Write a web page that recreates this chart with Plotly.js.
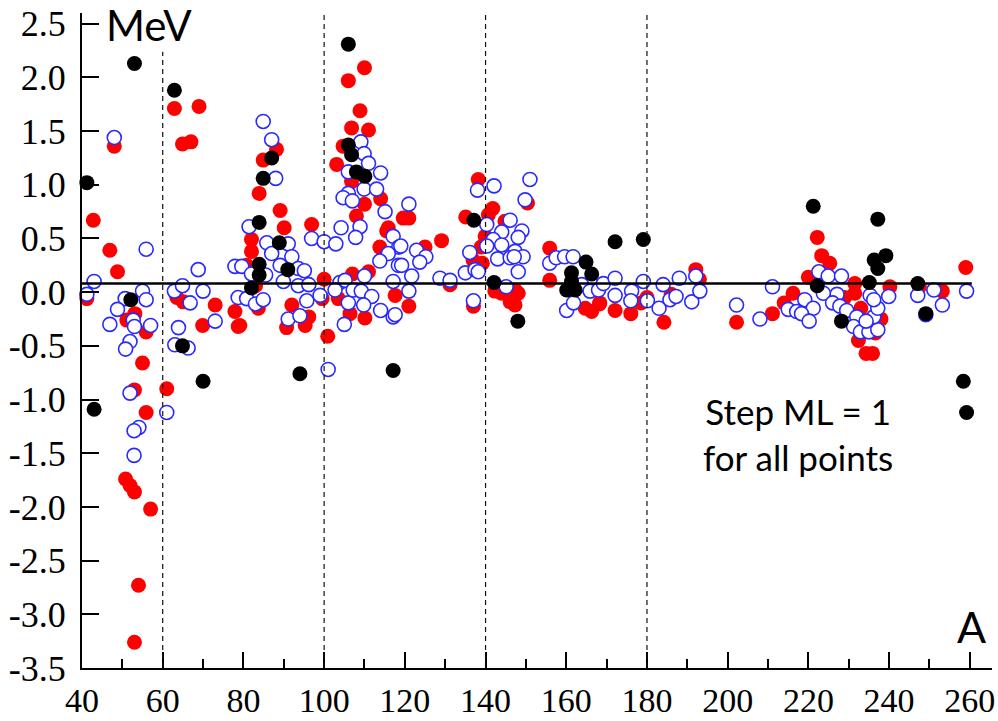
<!DOCTYPE html>
<html>
<head>
<meta charset="utf-8">
<script src="https://cdn.plot.ly/plotly-3.0.1.min.js"></script>
<style>html,body{margin:0;padding:0;background:#fff;}#chart{width:998px;height:721px;}</style>
</head>
<body>
<div id="chart"></div>
<script>
// ---- data (A, deviation in MeV) ----
const redX = [42.8,46.9,48.8,41.2,48,53.1,51.1,55.9,55,53,61,55.9,50.8,51.9,53,57,54,53,62.9,69,64.9,67,63.5,65.1,73,69.9,77.9,78.7,80.8,
  88.2,84.9,83.9,89.1,90.1,96.9,82,82,83.7,79.1,90.7,95.3,96.2,92,99.5,100,100.9,83,
  110,106,108.9,106.8,111,104.7,103.1,106.8,110,114,108,115.9,119.6,115.5,113.8,107,111,117.6,103.5,106.4,110.1,121,121,125,129.1,
  138.2,150.4,141.8,135.1,138.9,155.9,136.9,155.9,147.3,137,142.3,146.9,131.2,144,146.1,147.3,148.1,164.7,166.3,168.3,139.9,139.2,144.8,140.7,
  172.1,176,184.2,168.2,192.1,193,180,202.2,211.1,222.2,223.3,225.3,220,231.5,216.2,232.4,234.3,235.9,236.6,231.5,240.2,259,253.2,247.5,214,229,233,238,186,178.5];
const redY = [0.67,0.39,0.19,-0.06,1.36,-0.20,-0.26,-0.37,-0.66,-0.91,-0.90,-1.12,-1.74,-1.80,-1.86,-2.02,-2.73,-3.26,1.71,1.73,1.38,1.40,-0.05,-0.09,-0.12,-0.31,-0.18,-0.32,0.25,
  1.33,1.23,0.92,0.76,0.60,0.63,0.49,0.38,-0.15,-0.31,-0.33,-0.31,-0.23,-0.12,-0.06,0.12,-0.41,0.06,
  2.09,1.97,1.69,1.53,1.51,1.36,1.19,1.03,0.82,0.87,0.71,0.60,0.69,0.57,0.42,0.17,0.19,-0.03,-0.06,-0.20,-0.24,0.69,-0.13,0.42,0.48,
  1.05,0.83,0.78,0.70,0.42,0.41,0.30,0.11,0.02,-0.13,0.01,-0.10,0.07,-0.01,-0.09,-0.12,-0.01,-0.15,-0.18,-0.10,0.52,0.27,0.66,0.72,
  -0.17,-0.20,-0.28,-0.11,0.21,0.12,-0.05,-0.28,-0.20,0.51,0.34,0.27,0.14,0.08,-0.01,-0.45,-0.57,-0.57,-0.38,-0.01,0.05,0.23,0.01,0.05,-0.10,-0.05,-0.15,-0.25,-0.02,-0.10];

const blueX = [48,55.9,43,68.8,77.9,41.2,55,55.9,50.7,48.8,46.9,52.7,53,57,51.9,50.8,51.9,61,54.1,52.9,52.9,62.9,64.9,66.8,70,73,63.9,63,66.3,78.7,
  84.9,87,88,81.4,96.9,100,102.9,85.8,91.1,87,92,89.1,79.6,93.6,95.1,82,85.5,89.9,93.6,96.2,80.8,83,84.9,91.1,94,95.7,99,
  109.1,109.9,106,111,114,106,104.7,107,109.9,113,115.1,108.9,104.2,121,107.8,117.1,118.5,115.9,113.8,118.4,103.9,110,105.2,117.1,102.7,106,107.2,109.2,111.8,109.8,114,117.1,105,101,119,122.9,125.2,119.2,123.7,121.7,121,117.6,
  128.7,131.2,135,137.4,138.2,136.1,137,138,142.1,151,149.8,140.3,146.1,144,149,148.1,141.9,140.3,144,147.3,143,146.1,149.3,148.1,145.1,155.9,157.5,159.6,161.7,163.8,160.1,161.8,165.9,168,169.2,147.1,
  172.1,179.1,192.1,188,184,172.1,176.2,176,180.1,183,185.7,187.2,191.1,193.1,202.2,208,211.1,222.6,224.9,228.2,227.1,223.7,235.3,239.9,247.1,251.1,253.2,259.2,249.1,219.1,221.2,215,217.1,218.3,220.2,226,227.8,229.5,232,231.2,232.9,235,237.2,236.2,237.2,236.2,234.3];
const blueY = [1.44,0.40,0.10,0.21,0.24,-0.02,0.01,-0.07,-0.06,-0.16,-0.30,-0.26,-0.32,-0.31,-0.46,-0.53,-0.94,-1.12,-1.26,-1.29,-1.52,0.01,0.06,-0.10,0.01,-0.27,-0.33,-0.49,-0.52,-0.05,
  1.59,1.42,1.06,0.61,0.50,0.47,0.45,0.46,0.45,0.36,0.33,0.25,0.24,0.22,0.20,0.17,0.16,0.10,0.06,0.07,-0.06,-0.11,-0.07,-0.25,-0.22,-0.08,-0.03,
  1.40,1.29,1.12,1.20,1.11,0.92,0.88,0.85,0.96,0.96,0.75,0.61,0.60,0.82,0.51,0.52,0.42,0.36,0.29,0.25,0.09,0.15,0.11,0.10,0.02,-0.10,0.02,0.01,-0.04,-0.12,-0.17,-0.23,-0.30,-0.72,0.43,0.39,0.33,0.25,0.28,0.15,0.01,-0.21,
  0.13,0.11,0.18,0.21,0.19,0.37,-0.08,0.95,0.99,1.05,0.86,0.63,0.67,0.56,0.57,0.51,0.49,0.43,0.44,0.38,0.31,0.32,0.33,0.19,0.05,0.27,0.32,0.33,0.33,0.07,-0.17,-0.10,0.01,0.02,0.08,0.33,
  0.13,0.10,0.15,0.13,0.07,-0.03,0.01,-0.08,-0.08,-0.15,-0.07,-0.04,-0.09,0.01,-0.12,-0.25,0.05,0.19,0.15,0.15,-0.02,-0.01,-0.03,-0.04,-0.03,0.02,-0.12,0.01,-0.21,-0.07,-0.15,-0.16,-0.18,-0.20,-0.27,-0.10,-0.13,-0.17,-0.23,-0.32,-0.37,-0.37,-0.35,-0.23,-0.15,-0.07,-0.27];

const blackX = [41.2,43,53,62.9,52.1,64.9,70,87,84.9,83.9,88.9,83.9,91,83.9,82,94,106,106,106.8,108,110.1,117.1,137.1,142.1,148,164.9,166.3,161.3,160.1,162.2,161.3,172.1,179.1,221.2,237.2,239.2,236.3,237.2,222.2,235.1,247.1,228.2,249.1,258.4,259.2];
const blackY = [1.02,-1.09,2.13,1.88,-0.07,-0.50,-0.83,1.25,1.06,0.65,0.46,0.26,0.21,0.16,0.04,-0.76,2.31,1.37,1.28,1.12,1.08,-0.73,0.67,0.09,-0.27,0.28,0.17,0.18,0.02,0.02,0.10,0.47,0.49,0.80,0.68,0.34,0.30,0.22,0.06,0.09,0.08,-0.27,-0.20,-0.83,-1.12];

// ---- axes / reference lines ----
const xTickVals = [40,60,80,100,120,140,160,180,200,220,240,260];
const xMinorVals = [50,70,90,110,130,150,170,190,210,230,250];
const yTickVals = [-3.5,-3,-2.5,-2,-1.5,-1,-0.5,0,0.5,1,1.5,2,2.5];
const yTickText = ['-3.5','-3.0','-2.5','-2.0','-1.5','-1.0','-0.5','0.0','0.5','1.0','1.5','2.0','2.5'];
const xRange = [40, 265.5];
const yRange = [-3.5, 2.6];
const refLineY = 0.08;
const refLineEnd = 260.5;
const dividerX = [60,100,140,180];
const dividerTop = [2.24,2.6,2.6,2.6];

const traces = [
  {x: redX, y: redY, type: 'scatter', mode: 'markers', cliponaxis: false,
   marker: {color: '#ff0000', size: 15, line: {width: 0}}},
  {x: blueX, y: blueY, type: 'scatter', mode: 'markers', cliponaxis: false,
   marker: {color: '#ffffff', size: 14, line: {color: '#2a2aff', width: 1.6}}},
  {x: blackX, y: blackY, type: 'scatter', mode: 'markers', cliponaxis: false,
   marker: {color: '#000000', size: 15, line: {width: 0}}}
];

const shapes = dividerX.map((v, i) => ({
  type: 'line', xref: 'x', yref: 'y', x0: v, x1: v, y0: yRange[0], y1: dividerTop[i],
  line: {color: '#111111', width: 1.2, dash: '5px,4px'}, layer: 'above'
}));
shapes.push({type: 'line', xref: 'x', yref: 'y', x0: xRange[0], x1: refLineEnd, y0: refLineY, y1: refLineY,
  line: {color: '#000000', width: 2.5}, layer: 'above'});

const serif = 'Liberation Serif, Times New Roman, serif';
const sans = 'Lato, Open Sans, sans-serif';

const layout = {
  width: 998, height: 721,
  margin: {l: 82, r: 6, t: 13, b: 53, pad: 0},
  paper_bgcolor: '#ffffff', plot_bgcolor: '#ffffff',
  showlegend: false,
  xaxis: {
    range: xRange, tickmode: 'array', tickvals: xTickVals,
    ticks: 'inside', ticklen: 16, tickwidth: 2, tickcolor: '#000',
    minor: {tickmode: 'array', tickvals: xMinorVals, ticks: 'inside', ticklen: 9, tickwidth: 2, tickcolor: '#000', showgrid: false},
    showline: true, linewidth: 2, linecolor: '#000', mirror: false,
    showgrid: false, zeroline: false,
    tickfont: {family: serif, size: 34, color: '#000'}, ticklabelstandoff: 1
  },
  yaxis: {
    range: yRange, tickmode: 'array', tickvals: yTickVals, ticktext: yTickText,
    ticks: 'inside', ticklen: 17, tickwidth: 2, tickcolor: '#000',
    showline: true, linewidth: 2, linecolor: '#000', mirror: false,
    showgrid: false, zeroline: false,
    tickfont: {family: serif, size: 36, color: '#000'}, ticklabelstandoff: 7
  },
  shapes: shapes,
  annotations: [
    {text: 'MeV', xref: 'paper', yref: 'paper', x: 0.024, y: 0.982, xanchor: 'left', yanchor: 'middle',
     showarrow: false, font: {family: sans, size: 42, color: '#000'}},
    {text: 'A', xref: 'paper', yref: 'paper', x: 0.9775, y: 0.064, xanchor: 'center', yanchor: 'middle',
     showarrow: false, font: {family: sans, size: 43, color: '#000'}},
    {text: 'Step ML = 1<br>for all points', xref: 'paper', yref: 'paper', x: 0.787, y: 0.358,
     xanchor: 'center', yanchor: 'middle', align: 'center',
     showarrow: false, font: {family: sans, size: 35, color: '#000'}}
  ]
};

Plotly.newPlot('chart', traces, layout, {displayModeBar: false, staticPlot: true});
</script>
</body>
</html>
